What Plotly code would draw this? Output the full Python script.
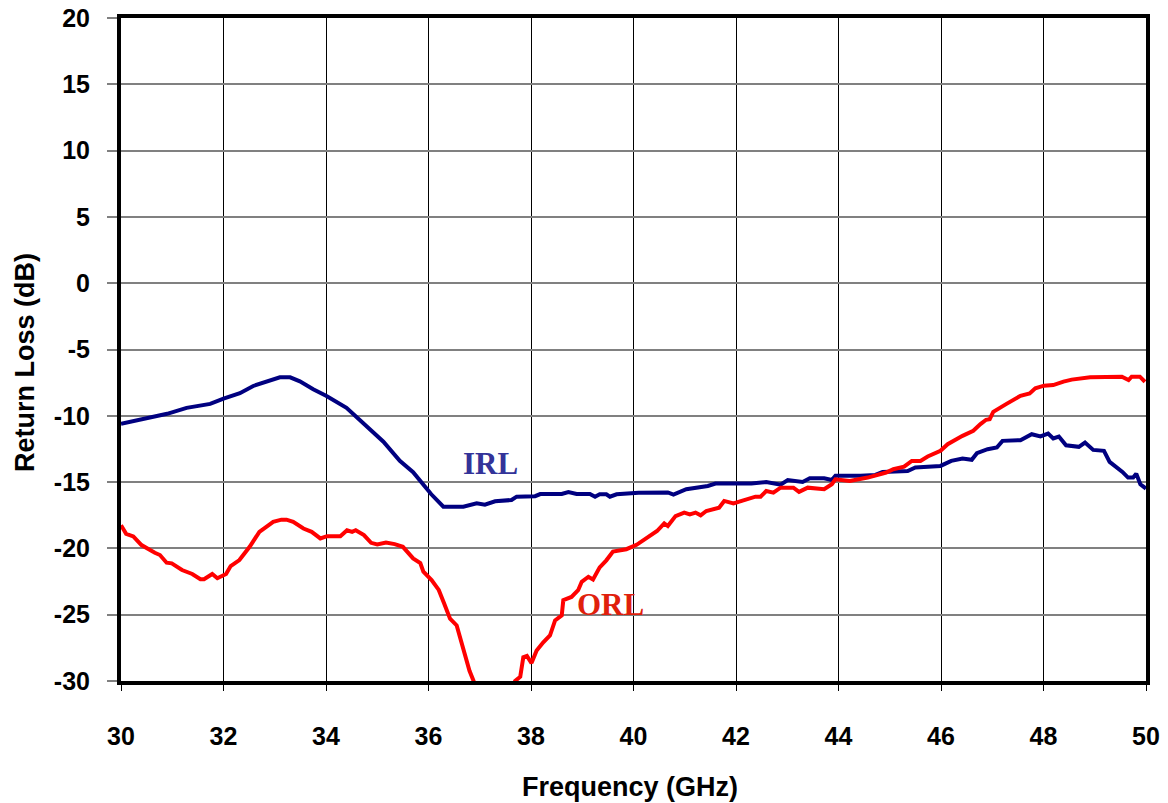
import plotly.graph_objects as go

# ---- data ----
freq_irl = [30.0, 30.3, 30.6, 30.9, 31.28, 31.74, 32.0, 32.32, 32.58, 32.9, 33.1, 33.3, 33.49, 33.75,
            34.01, 34.4, 34.66, 35.12, 35.44, 35.7, 36.05, 36.29, 36.68, 36.94, 37.1, 37.3, 37.62,
            37.72, 38.08, 38.18, 38.6, 38.73, 38.89, 39.15, 39.25, 39.34, 39.47, 39.54, 39.67, 40.1,
            40.67, 40.78, 41.03, 41.45, 41.6, 42.3, 42.59, 42.87, 43.01, 43.3, 43.44, 43.72, 43.87,
            43.94, 44.43, 44.72, 44.86, 45.35, 45.5, 45.99, 46.2, 46.42, 46.6, 46.7, 46.91, 47.09,
            47.2, 47.55, 47.77, 47.94, 48.09, 48.19, 48.3, 48.44, 48.69, 48.81, 48.97, 49.18, 49.29,
            49.54, 49.65, 49.75, 49.81, 49.89, 50.0]
irl_db = [-10.6, -10.37, -10.1, -9.85, -9.4, -9.1, -8.7, -8.3, -7.75, -7.35, -7.1, -7.1, -7.4, -8.0,
          -8.5, -9.4, -10.3, -11.95, -13.4, -14.25, -15.9, -16.85, -16.85, -16.6, -16.7, -16.45, -16.35,
          -16.1, -16.06, -15.9, -15.9, -15.75, -15.9, -15.9, -16.1, -15.92, -15.92, -16.1, -15.92, -15.8,
          -15.78, -15.95, -15.54, -15.29, -15.11, -15.11, -14.99, -15.19, -14.84, -14.99, -14.71, -14.71, -14.84,
          -14.53, -14.53, -14.46, -14.23, -14.16, -13.9, -13.78, -13.4, -13.22, -13.32, -12.82, -12.52, -12.39,
          -11.89, -11.84, -11.39, -11.56, -11.34, -11.71, -11.56, -12.22, -12.34, -12.02, -12.57, -12.64, -13.48,
          -14.23, -14.66, -14.66, -14.36, -15.16, -15.49]

freq_orl = [30.0, 30.1, 30.24, 30.4, 30.66, 30.76, 30.89, 30.99, 31.19, 31.39, 31.55, 31.62, 31.78, 31.88,
            32.05, 32.14, 32.31, 32.51, 32.7, 32.97, 33.13, 33.23, 33.36, 33.56, 33.72, 33.89, 34.02,
            34.28, 34.41, 34.51, 34.58, 34.74, 34.88, 35.0, 35.17, 35.34, 35.5, 35.7, 35.84, 35.9,
            36.06, 36.2, 36.3, 36.42, 36.55, 36.68, 36.8, 36.88, 37.0, 37.3, 37.6, 37.69, 37.79,
            37.85, 37.92, 38.01, 38.11, 38.24, 38.37, 38.47, 38.6, 38.63, 38.79, 38.92, 38.99, 39.12,
            39.21, 39.34, 39.47, 39.6, 39.86, 40.06, 40.25, 40.46, 40.6, 40.67, 40.82, 40.99, 41.1,
            41.21, 41.31, 41.42, 41.67, 41.77, 41.95, 42.16, 42.38, 42.48, 42.59, 42.73, 42.87, 43.12,
            43.23, 43.4, 43.72, 43.87, 43.94, 44.22, 44.57, 44.93, 45.07, 45.28, 45.43, 45.6, 45.74,
            45.99, 46.13, 46.42, 46.63, 46.77, 46.88, 46.95, 47.02, 47.27, 47.55, 47.73, 47.84, 48.01,
            48.19, 48.39, 48.55, 48.91, 49.53, 49.66, 49.72, 49.88, 49.98]
orl_db = [-18.25, -18.9, -19.1, -19.75, -20.33, -20.5, -21.08, -21.13, -21.63, -21.93, -22.33, -22.33, -21.93, -22.25,
          -21.93, -21.33, -20.88, -19.88, -18.75, -18.0, -17.83, -17.83, -18.0, -18.5, -18.75, -19.25, -19.08,
          -19.08, -18.63, -18.75, -18.63, -19.0, -19.58, -19.7, -19.55, -19.68, -19.88, -20.75, -21.1, -21.75,
          -22.39, -23.13, -24.1, -25.3, -25.81, -27.7, -29.23, -30.0, -31.5, -33.0, -31.0, -30.0, -29.68,
          -28.2, -28.1, -28.65, -27.7, -27.08, -26.57, -25.43, -25.05, -23.91, -23.66, -23.15, -22.52, -22.14,
          -22.34, -21.43, -20.9, -20.24, -20.06, -19.73, -19.2, -18.69, -18.11, -18.31, -17.56, -17.3, -17.43,
          -17.3, -17.51, -17.18, -16.93, -16.42, -16.6, -16.35, -16.1, -16.1, -15.67, -15.79, -15.42, -15.42,
          -15.74, -15.42, -15.54, -15.16, -14.79, -14.91, -14.66, -14.28, -14.03, -13.83, -13.4, -13.4, -13.07,
          -12.64, -12.14, -11.51, -11.13, -10.63, -10.3, -10.25, -9.7, -9.12, -8.49, -8.31, -7.93, -7.73,
          -7.68, -7.42, -7.27, -7.1, -7.05, -7.3, -7.05, -7.05, -7.43]

x_ticks = [30, 32, 34, 36, 38, 40, 42, 44, 46, 48, 50]
y_ticks = [20, 15, 10, 5, 0, -5, -10, -15, -20, -25, -30]
x_title = "Frequency (GHz)"
y_title = "Return Loss (dB)"
label_irl = "IRL"
label_orl = "ORL"

fig = go.Figure()
fig.add_trace(go.Scatter(x=freq_irl, y=irl_db, mode="lines", name=label_irl,
                         line=dict(color="#000080", width=4)))
fig.add_trace(go.Scatter(x=freq_orl, y=orl_db, mode="lines", name=label_orl,
                         line=dict(color="#ff0000", width=4)))

tickfont = dict(family="Liberation Sans, Arial", size=25, color="black", weight="bold")

# the page body adds an 8px offset; figure is sized to fit the window
fig.update_layout(
    width=1160, height=795,
    margin=dict(l=113, r=22, t=10, b=122),
    paper_bgcolor="white", plot_bgcolor="white",
    showlegend=False,
    xaxis=dict(range=[30, 50], tickvals=x_ticks, ticktext=[str(v) for v in x_ticks],
               showgrid=True, gridcolor="black", gridwidth=1,
               showline=True, linecolor="black", linewidth=4, mirror=True,
               ticks="outside", ticklen=6, tickcolor="black", tickwidth=1,
               ticklabelstandoff=24, tickfont=tickfont, zeroline=False, automargin=False,
               ticklabeloverflow="allow"),
    yaxis=dict(range=[-30, 20], tickvals=y_ticks, ticktext=[str(v) for v in y_ticks],
               showgrid=True, gridcolor="#808080", gridwidth=2,
               showline=True, linecolor="black", linewidth=4, mirror=True,
               ticks="outside", ticklen=10, tickcolor="#808080", tickwidth=1.5,
               ticklabelstandoff=12, tickfont=tickfont, zeroline=False, automargin=False,
               ticklabeloverflow="allow"),
    annotations=[
        dict(text=label_irl, x=37.2, y=-13.56, xref="x", yref="y", showarrow=False,
             font=dict(family="Liberation Serif, Times New Roman", size=31, color="#333399", weight="bold")),
        dict(text=label_orl, x=39.56, y=-24.25, xref="x", yref="y", showarrow=False,
             font=dict(family="Liberation Serif, Times New Roman", size=31, color="#e0200c", weight="bold")),
        dict(text=x_title, x=0.497, y=-0.16, xref="paper", yref="paper", showarrow=False,
             yanchor="middle", xanchor="center",
             font=dict(family="Liberation Sans Narrow, Liberation Sans, Arial", size=27, color="black", weight="bold")),
        dict(text=y_title, x=-0.0937, y=0.481, xref="paper", yref="paper", showarrow=False,
             textangle=-90, xanchor="center", yanchor="middle",
             font=dict(family="Liberation Sans Narrow, Liberation Sans, Arial", size=27, color="black", weight="bold")),
    ],
)

fig.write_html("out.html")
